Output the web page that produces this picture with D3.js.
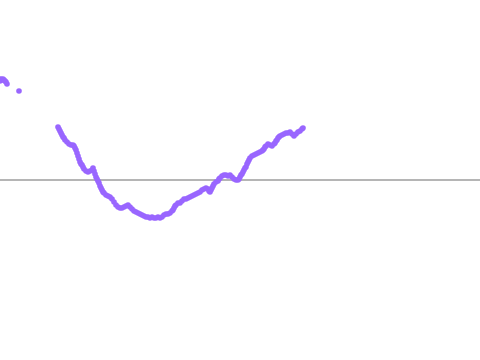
<!DOCTYPE html>
<html>
<head>
<meta charset="utf-8">
<script src="https://cdn.jsdelivr.net/npm/d3@7"></script>
<style>
  html, body { margin: 0; padding: 0; background: #fff; }
  svg { display: block; }
</style>
</head>
<body>
<div id="chart"></div>
<script>
// Sample positions (x) and readings (value above/below the zero line).
const xs = [0, 1, 2, 3, 4, 5, 6, 7, 19,
  58, 59, 60, 61, 62, 63, 64, 65, 67, 69, 71, 73, 74, 75, 76, 77, 78, 79, 80, 81, 82, 83, 84, 86, 88, 90, 92, 93,
  94, 95, 96, 97, 98, 99, 100, 101, 102, 103, 104, 106, 108, 110, 112, 114, 116, 118, 120, 122, 124, 126, 128,
  130, 132, 134, 136, 138, 140, 142, 144, 146, 148, 150, 152, 154, 156, 158, 160, 162, 164, 166, 168, 170, 172,
  173, 174, 175, 176, 178, 180, 182, 184, 186, 188, 190, 192, 194, 196, 198, 200, 202, 204, 206, 208, 209, 210,
  211, 212, 213, 214, 216, 218, 219, 220, 222, 224, 226, 228, 230, 232, 234, 236, 238, 239, 240, 241, 242, 243,
  244, 245, 246, 247, 248, 249, 250, 252, 254, 256, 258, 260, 262, 263, 264, 265, 266, 268, 270, 272, 274, 275,
  276, 277, 278, 279, 280, 282, 284, 286, 288, 290, 292, 294, 296, 298, 300, 302, 303];
const values = [99, 101, 100, 101, 100, 99, 98, 96, 89,
  53, 51, 49, 47, 45, 43, 42, 40, 38, 36, 35, 35, 34, 32, 30, 27, 24, 21, 18, 16, 15, 13, 11, 9, 8, 9, 10, 12,
  9, 6, 3, 1, -1, -3, -6, -8, -10, -12, -13, -15, -16, -17, -19, -22, -25, -27, -28, -28, -27, -26, -25,
  -27, -29, -31, -32, -33, -34, -35, -36, -37, -37, -38, -37, -38, -38, -37, -38, -37, -35, -34, -34, -33, -31,
  -30, -28, -26, -25, -23, -23, -21, -19, -19, -18, -17, -16, -15, -14, -13, -12, -10, -9, -8, -9, -11, -12,
  -10, -8, -6, -4, -2, -1, 1, 2, 4, 5, 5, 4, 5, 3, 1, 0, 0, 1, 3, 5, 6, 8,
  10, 12, 13, 16, 18, 20, 22, 24, 25, 26, 27, 28, 29, 30, 31, 33, 34, 36, 35, 34, 36, 37,
  39, 40, 42, 43, 44, 45, 46, 47, 47, 48, 46, 44, 46, 48, 49, 51, 52];

const W = 480, H = 360;
const points = xs.map((x, i) => ({ x, v: values[i] }));

const x = d3.scaleLinear().domain([0, 480]).range([0, W]);
const y = d3.scaleLinear().domain([-180, 180]).range([H, 0]);

const svg = d3.select("#chart").append("svg")
  .attr("width", W)
  .attr("height", H);

// Zero line.
svg.append("line")
  .attr("x1", 0).attr("x2", W)
  .attr("y1", y(0)).attr("y2", y(0))
  .attr("stroke", "#b5b5b5")
  .attr("stroke-width", 1.8);

svg.append("g")
  .selectAll("circle")
  .data(points)
  .join("circle")
  .attr("cx", (d) => x(d.x))
  .attr("cy", (d) => y(d.v))
  .attr("r", 2.8)
  .attr("fill", "rgb(153, 102, 255)");
</script>
</body>
</html>
